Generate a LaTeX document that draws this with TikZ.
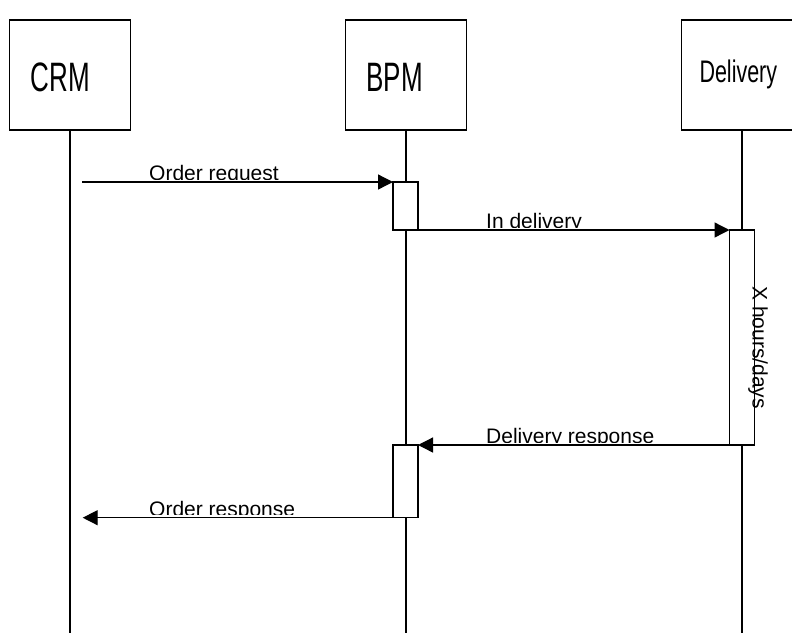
\documentclass[tikz,border=0pt]{standalone}
\usepackage{fontspec}
\setmainfont{Liberation Sans}
\usetikzlibrary{arrows.meta}
\tikzset{
  head/.style={draw, line width=1.3pt, fill=white, minimum width=121pt, minimum height=110pt,
    text width=79pt, inner xsep=21pt, inner ysep=0pt, align=left, outer sep=0pt,
    text height=32pt, text depth=0pt},
  bigtxt/.style={font=\fontsize{26}{30}\selectfont},
  midtxt/.style={font=\fontsize{21.5}{25}\selectfont},
  life/.style={line width=1.3pt},
  act/.style={draw, line width=1.3pt, fill=white, minimum width=25pt, inner sep=0pt, outer sep=0pt},
  msg/.style={line width=1.3pt, -{Triangle[length=15pt,width=15pt]}},
  lbl/.style={font=\fontsize{21}{25}\selectfont, inner sep=0pt, anchor=base west}
}
\newcommand{\tallt}[1]{\scalebox{1}[1.58]{#1}}
\newcommand{\tallm}[1]{\scalebox{1}[1.45]{#1}}
\begin{document}
\begin{tikzpicture}[x=1pt, y=-1pt]
\useasboundingbox (0,0) rectangle (792,633);
\clip (0,0) rectangle (792,633);
\fill[white] (0,0) rectangle (792,633);

% heads
\node[head, bigtxt] (crm) at (70,75) {\tallt{CRM}};
\node[head, bigtxt] (bpm) at (406,75) {\tallt{BPM}};
\node[head, midtxt, inner xsep=18pt, text width=85pt, text height=14pt] (del) at (742,75) {\tallm{Delivery}};

% lifeline ends
\coordinate (crmEnd) at (70,633);
\coordinate (bpmEnd) at (406,633);
\coordinate (delEnd) at (742,633);
\draw[life] (crm.south) -- (crmEnd);
\draw[life] (bpm.south) -- (bpmEnd);
\draw[life] (del.south) -- (delEnd);

% activations
\node[act, minimum height=48pt] (a1) at (405.5,206) {};
\node[act, minimum height=215pt] (a2) at (742,337.5) {};
\node[act, minimum height=72.7pt] (a3) at (405.5,481.35) {};

% messages
\coordinate (s1) at (82,182);
\coordinate (e4) at (82.7,517.7);
\draw[msg] (s1) -- (a1.north west);
\draw[msg] (a1.south east) -- (a2.north west);
\draw[msg] (a2.south west) -- (a3.north east);
\draw[msg] (a3.south west) -- (e4);

% labels (clipped just above the message lines)
\begin{scope}
\clip (140,150) rectangle (300,179);
\node[lbl] (l1) at (149,180.5) {Order request};
\end{scope}
\begin{scope}
\clip (480,198) rectangle (600,227);
\node[lbl] (l2) at (486,228.5) {In delivery};
\end{scope}
\begin{scope}
\clip (480,413) rectangle (680,442);
\node[lbl] (l3) at (486,443.5) {Delivery response};
\end{scope}
\begin{scope}
\clip (140,486) rectangle (320,514.7);
\node[lbl] (l4) at (149,516.2) {Order response};
\end{scope}

% duration
\node[lbl, rotate=-90] (dur) at (752.5,286) {X hours/days};
\end{tikzpicture}
\end{document}
